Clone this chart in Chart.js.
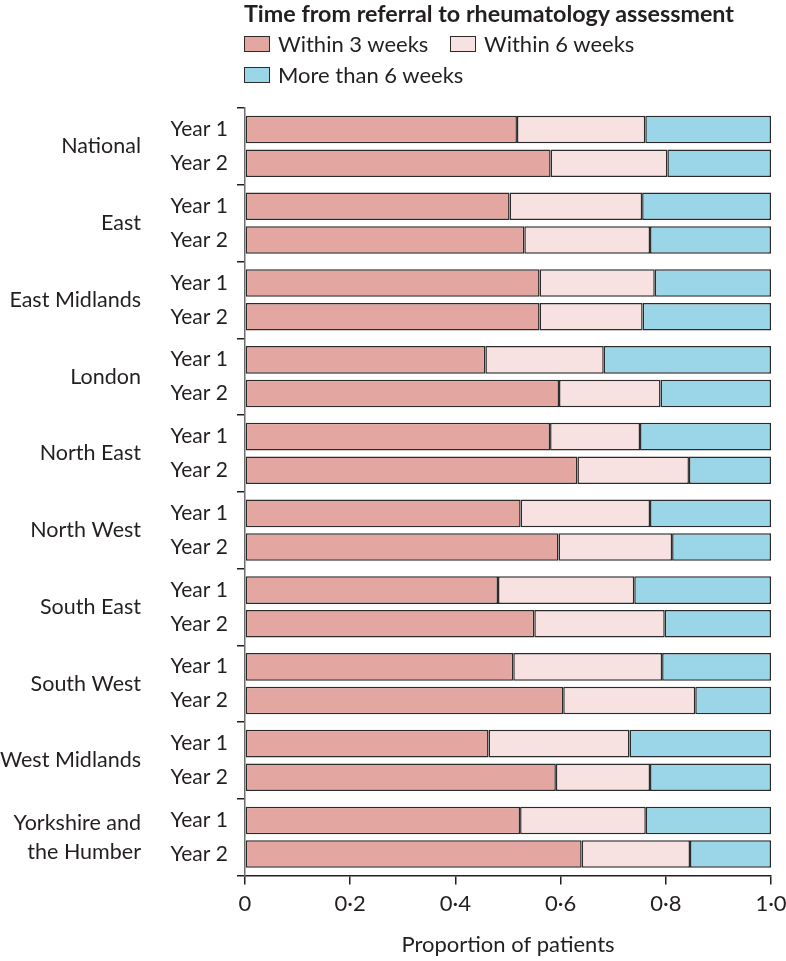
<!DOCTYPE html>
<html>
<head>
<meta charset="utf-8">
<script src="https://cdn.jsdelivr.net/npm/chart.js@4/dist/chart.umd.min.js"></script>
<style>
  body { margin: 0; background: #fff; font-family: Lato, sans-serif; color: #231f20; }
  #wrap { position: relative; width: 786px; height: 961px; }
  #legend { position: absolute; left: 244px; top: 0; }
  #legend .title { font-weight: bold; font-size: 23.3px; line-height: 26px; white-space: nowrap; }
  #legend .items { display: grid; grid-template-columns: 206px auto; row-gap: 8px; margin-top: 6px; }
  #legend .item { display: flex; align-items: center; font-size: 22px; line-height: 23px; white-space: nowrap; }
  #legend .box { flex: none; width: 24px; height: 14px; border: 1.5px solid #2b2b2b; margin-right: 8px; }
</style>
</head>
<body>
<div id="wrap">
  <canvas id="chart" width="786" height="961"></canvas>
  <div id="legend">
    <div class="title">Time from referral to rheumatology assessment</div>
    <div class="items" id="legend-items"></div>
  </div>
</div>
<script>
const regions = ['National', 'East', 'East Midlands', 'London', 'North East', 'North West',
  'South East', 'South West', 'West Midlands', ['Yorkshire and', 'the Humber']];
const years = ['Year 1', 'Year 2'];
const seriesNames = ['Within 3 weeks', 'Within 6 weeks', 'More than 6 weeks'];

// proportion of patients, one value per region
const within3Year1 = [0.517, 0.503, 0.560, 0.457, 0.580, 0.524, 0.481, 0.510, 0.463, 0.523];
const within3Year2 = [0.581, 0.531, 0.560, 0.597, 0.632, 0.596, 0.550, 0.605, 0.591, 0.640];
const within6Year1 = [0.244, 0.252, 0.219, 0.225, 0.171, 0.246, 0.259, 0.283, 0.268, 0.239];
const within6Year2 = [0.222, 0.239, 0.196, 0.193, 0.212, 0.216, 0.248, 0.251, 0.179, 0.206];
const more6Year1 = [0.239, 0.245, 0.221, 0.318, 0.249, 0.230, 0.260, 0.207, 0.269, 0.238];
const more6Year2 = [0.197, 0.230, 0.244, 0.210, 0.156, 0.188, 0.202, 0.144, 0.230, 0.154];

const xTicks = ['0', '0·2', '0·4', '0·6', '0·8', '1·0'];

const colors = ['#e3a6a1', '#f7e1e1', '#9bd6e8'];
const ink = '#231f20';

function makeSet(label, data, stack, color) {
    return {
        label: label,
        data: data,
        stack: stack,
        backgroundColor: color,
        borderColor: '#2b2b2b',
        borderWidth: 1.5,
        borderSkipped: false,
        categoryPercentage: 0.876,
        barPercentage: 0.82
    };
}

const datasets = [
    makeSet(seriesNames[0], within3Year1, years[0], colors[0]),
    makeSet(seriesNames[1], within6Year1, years[0], colors[1]),
    makeSet(seriesNames[2], more6Year1, years[0], colors[2]),
    makeSet(seriesNames[0], within3Year2, years[1], colors[0]),
    makeSet(seriesNames[1], within6Year2, years[1], colors[1]),
    makeSet(seriesNames[2], more6Year2, years[1], colors[2])
];

const family = 'Lato, sans-serif';

const chart = new Chart(document.getElementById('chart'), {
    type: 'bar',
    data: {
        labels: regions.map(() => years),
        datasets: datasets
    },
    options: {
        indexAxis: 'y',
        responsive: false,
        animation: false,
        layout: { padding: { top: 108, right: 0, bottom: 0, left: 0 } },
        plugins: {
            legend: { display: false },
            tooltip: { enabled: false }
        },
        scales: {
            x: {
                stacked: true,
                min: 0,
                max: 1,
                ticks: {
                    stepSize: 0.2,
                    color: ink,
                    font: { family: family, size: 22, lineHeight: 1.1 },
                    padding: 7,
                    callback: function (value, index) {
                        return xTicks[index];
                    }
                },
                grid: { drawOnChartArea: false, tickLength: 9, color: ink, lineWidth: 1.5 },
                border: { color: ink, width: 1.5 },
                title: {
                    display: true,
                    text: 'Proportion of patients',
                    color: ink,
                    font: { family: family, size: 22, lineHeight: 1.1 },
                    padding: { top: 10, bottom: 4 }
                },
                // let the last tick label run to the canvas edge, as in the print
                afterFit: function (scale) { scale.paddingRight = 15; }
            },
            y: {
                stacked: true,
                weight: 0,
                ticks: {
                    color: ink,
                    autoSkip: false,
                    padding: 9,
                    font: { family: family, size: 21, lineHeight: 34 / 21 }
                },
                grid: { drawOnChartArea: false, tickLength: 8, color: ink, lineWidth: 1.5 },
                border: { color: '#6d6d6d', width: 1.5 },
                afterFit: function (scale) { scale.width = 95; }
            },
            region: {
                type: 'category',
                labels: regions,
                position: 'left',
                offset: true,
                weight: 1,
                grid: { display: false },
                border: { display: false },
                ticks: {
                    color: ink,
                    autoSkip: false,
                    padding: 1,
                    font: { family: family, size: 21.5, lineHeight: 29 / 21.5 }
                },
                afterFit: function (scale) { scale.width = 150; }
            }
        }
    }
});

// html legend, one entry per series
const legendItems = document.getElementById('legend-items');
chart.data.datasets.filter(d => d.stack === years[0]).forEach(d => {
    const item = document.createElement('div');
    item.className = 'item';
    const box = document.createElement('span');
    box.className = 'box';
    box.style.background = d.backgroundColor;
    item.appendChild(box);
    item.appendChild(document.createTextNode(d.label));
    legendItems.appendChild(item);
});
</script>
</body>
</html>
